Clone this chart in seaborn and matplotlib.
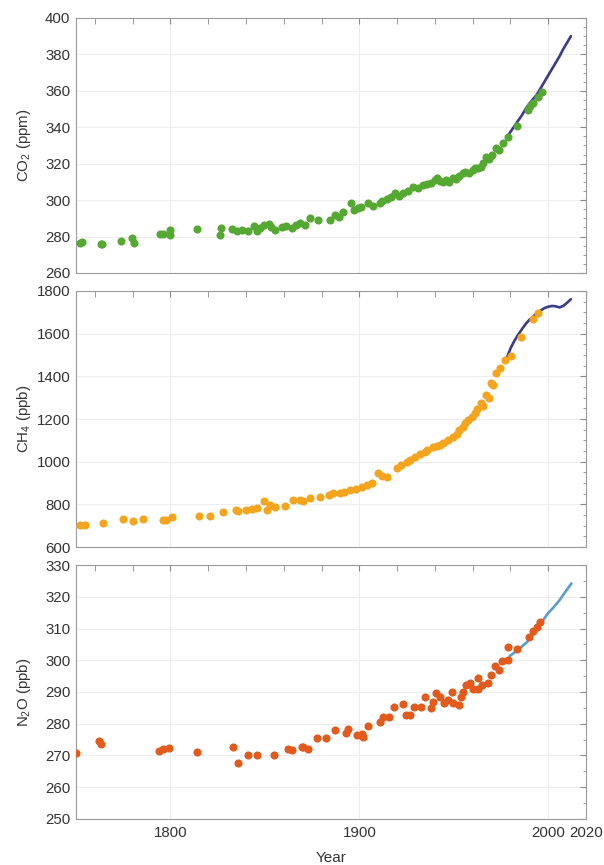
import numpy as np
import pandas as pd
import matplotlib
matplotlib.use("Agg")
import matplotlib.pyplot as plt
import seaborn as sb

# ice core / firn records (points) and direct atmospheric records (lines)
co2_years = [1752, 1753, 1763, 1764, 1774, 1779.6, 1780.7, 1794.4, 1796, 1799.7, 1799.7,
             1814, 1826, 1826.7, 1832.7, 1835, 1838, 1840.8, 1844, 1845.6, 1847.3, 1849.6,
             1852.3, 1853.5, 1855.3, 1858.8, 1861.4, 1864.1, 1866.7, 1868.5, 1871, 1873.8,
             1878, 1884.4, 1887, 1889, 1891.4, 1895.8, 1897, 1899.4, 1901, 1904.7, 1907,
             1910.8, 1912, 1914.4, 1917, 1918.8, 1921, 1923.2, 1926, 1928.5, 1931, 1933.8,
             1936, 1938, 1940, 1941, 1942.5, 1944.4, 1946, 1947.5, 1949.6, 1951, 1953,
             1954.9, 1956, 1958, 1960.2, 1961.5, 1963, 1964.6, 1965.5, 1967.3, 1968.5,
             1970, 1972.5, 1974, 1976, 1978.7, 1983.5, 1989.3, 1990.5, 1992, 1994.6, 1996.9]
co2_values = [276.4, 277.0, 276.0, 275.8, 277.7, 279.4, 276.6, 281.4, 281.4, 283.6, 280.8,
              284.0, 281.0, 284.9, 284.3, 283.3, 283.8, 282.8, 285.6, 283.0, 284.6, 286.1,
              287.0, 285.0, 283.6, 285.0, 285.6, 284.6, 286.2, 287.3, 286.5, 290.0,
              289.0, 289.0, 291.8, 290.5, 293.7, 298.2, 294.5, 295.5, 296.0, 298.2, 297.0,
              298.2, 299.5, 300.4, 301.5, 303.7, 302.5, 303.7, 305.0, 307.4, 306.5, 308.3,
              309.0, 309.5, 311.0, 312.0, 310.5, 310.1, 311.0, 309.8, 312.0, 311.5, 313.0,
              314.7, 315.5, 315.0, 316.5, 317.8, 317.5, 318.4, 320.5, 323.8, 322.5,
              325.0, 328.4, 327.5, 331.2, 334.8, 340.7, 349.5, 351.5, 353.1, 356.8, 359.5]
co2_inst_years = [1978, 1980, 1982, 1984, 1986, 1988, 1990, 1992, 1994, 1996, 1998, 2000,
                  2002, 2004, 2006, 2008, 2010, 2012]
co2_inst_values = [334.0, 337.5, 340.5, 343.5, 346.5, 350.0, 353.0, 355.5, 358.0, 361.5,
                   365.0, 368.5, 372.0, 375.5, 379.0, 383.0, 386.5, 390.0]

ch4_years = [1752, 1755, 1764.5, 1774.7, 1780.4, 1785.3, 1795.9, 1797.5, 1800.6, 1815.3,
             1820.9, 1827.6, 1834.7, 1836, 1840, 1843, 1845.6, 1849.6, 1850.9, 1852.5,
             1855.3, 1860.6, 1865, 1868.5, 1870, 1873.8, 1879, 1884, 1886, 1889.7, 1892,
             1895, 1898, 1901.2, 1904, 1906.5, 1910, 1912, 1914.4, 1919.7, 1922, 1925,
             1927, 1929.4, 1932, 1934.7, 1936, 1939, 1941, 1942.5, 1944.4, 1947, 1949.6,
             1951.5, 1953, 1954.9, 1956, 1957.6, 1959.5, 1961.1, 1962.5, 1964.6, 1965.5,
             1967.3, 1968.5, 1969.9, 1971, 1972.5, 1974.3, 1976.9, 1980.5, 1985.7, 1991.9,
             1994.6]
ch4_values = [703, 705, 714, 730, 723, 733, 727, 725, 739, 745,
              747, 765, 773, 768, 773, 778, 781, 817, 773, 795,
              789, 792, 820, 820, 815, 828, 833, 845, 855, 852, 860,
              867, 872, 883, 890, 902, 945, 935, 930, 969, 985, 1000,
              1010, 1023, 1035, 1047, 1055, 1070, 1075, 1080, 1086, 1100, 1117,
              1130, 1150, 1164, 1180, 1195, 1210, 1227, 1245, 1273, 1260,
              1313, 1300, 1367, 1360, 1414, 1437, 1477, 1495, 1583, 1667,
              1695]
ch4_inst_years = [1978, 1980, 1982, 1984, 1986, 1988, 1990, 1992, 1994, 1996, 1998, 2000,
                  2002, 2004, 2006, 2008, 2010, 2012]
ch4_inst_values = [1484, 1530, 1565, 1594, 1620, 1645, 1665, 1680, 1695, 1708, 1720, 1726,
                   1730, 1728, 1723, 1730, 1745, 1761]

n2o_years = [1750, 1762.3, 1763.2, 1794, 1796.2, 1799.4, 1814.2, 1832.9, 1836, 1840.8,
             1845.8, 1855, 1862, 1864.5, 1869.4, 1870.3, 1873, 1877.7, 1882.6, 1887,
             1893.2, 1894, 1898.8, 1901.2, 1902, 1904.7, 1910.8, 1912.6, 1915.8, 1918.4,
             1923.2, 1924.6, 1926.7, 1928.8, 1932.9, 1934.8, 1937.8, 1939, 1940.8, 1942.6,
             1944.9, 1947, 1948.8, 1949.6, 1952.8, 1954, 1954.9, 1956.6, 1958.8, 1960.2,
             1962.8, 1962.8, 1965.1, 1968.1, 1969.9, 1971.7, 1974, 1975.6, 1978.7, 1978.7,
             1983.5, 1989.7, 1992, 1994.1, 1995.9]
n2o_values = [270.7, 274.6, 273.5, 271.5, 272.0, 272.4, 271.1, 272.8, 267.7, 270.0,
              270.2, 270.2, 272.0, 271.7, 272.6, 272.8, 272.0, 275.4, 275.4, 278.0,
              277.2, 278.5, 276.5, 276.8, 275.9, 279.4, 280.6, 282.2, 282.0, 285.4,
              286.2, 282.8, 282.8, 285.4, 285.2, 288.5, 284.9, 286.9, 289.6, 288.5,
              286.4, 287.5, 290.1, 286.4, 285.9, 288.5, 290.1, 292.2, 292.7, 290.8,
              290.8, 294.3, 292.2, 292.7, 295.4, 298.2, 297.0, 299.8, 300.1, 304.3,
              303.4, 307.2, 309.3, 310.4, 312.1]
n2o_inst_years = [1979.6, 1984, 1988.4, 1992, 1996, 1999.9, 2003, 2006.1, 2009, 2012.3]
n2o_inst_values = [301.3, 303.3, 305.5, 308.0, 311.5, 314.8, 316.8, 319.0, 321.5, 324.2]

panels = [
    dict(name=r"CO$_2$ (ppm)", years=co2_years, vals=co2_values,
         iyears=co2_inst_years, ivals=co2_inst_values,
         dot="#55a832", line="#3b3b8c", ylim=(260, 400), step=20, minor=5),
    dict(name=r"CH$_4$ (ppb)", years=ch4_years, vals=ch4_values,
         iyears=ch4_inst_years, ivals=ch4_inst_values,
         dot="#f5a41e", line="#3b3b8c", ylim=(600, 1800), step=200, minor=50),
    dict(name=r"N$_2$O (ppb)", years=n2o_years, vals=n2o_values,
         iyears=n2o_inst_years, ivals=n2o_inst_values,
         dot="#e25a1c", line="#5b9bd0", ylim=(250, 330), step=10, minor=5),
]

sb.set_style("white")
plt.rcParams["font.family"] = ["Liberation Sans", "DejaVu Sans"]
plt.rcParams["mathtext.default"] = "regular"

fig = plt.figure(figsize=(6.04, 8.65), dpi=100)
boxes = [(0.1258, 0.6844, 0.8444, 0.2948),
         (0.1258, 0.3676, 0.8444, 0.2960),
         (0.1258, 0.0532, 0.8444, 0.2936)]

for i, (p, box) in enumerate(zip(panels, boxes)):
    ax = fig.add_axes(box)
    pts = pd.DataFrame({"year": p["years"], "value": p["vals"]})
    inst = pd.DataFrame({"year": p["iyears"], "value": p["ivals"]})
    sb.lineplot(data=inst, x="year", y="value", color=p["line"], lw=1.9, ax=ax, zorder=2)
    sb.scatterplot(data=pts, x="year", y="value", color=p["dot"], s=34, linewidth=0,
                   ax=ax, zorder=3)

    ax.set_xlim(1750, 2020)
    ax.set_ylim(*p["ylim"])
    ax.set_xticks([1800, 1900, 2000, 2020])
    ax.set_xticks(np.arange(1760, 2020, 20), minor=True)
    ax.set_yticks(np.arange(p["ylim"][0], p["ylim"][1] + 1, p["step"]))
    ax.set_yticks(np.arange(p["ylim"][0], p["ylim"][1] + 1, p["minor"]), minor=True)
    ax.grid(True, which="major", color="#ededed", lw=0.8)
    ax.tick_params(which="both", direction="in", top=True, right=True, colors="#8a8a8a",
                   labelcolor="#333333", labelsize=10.8)
    ax.tick_params(which="major", length=4)
    ax.tick_params(which="minor", length=4)
    ax.tick_params(axis="y", which="minor", length=2.5)
    ax.tick_params(axis="y", pad=4)
    ax.tick_params(axis="x", pad=5)
    for s in ax.spines.values():
        s.set_color("#9a9a9a")
        s.set_linewidth(0.8)

    ax.set_ylabel(p["name"], fontsize=10.8, color="#333333")
    ax.yaxis.set_label_coords(-0.085, 0.5)
    if i < 2:
        ax.set_xticklabels([])
        ax.set_xlabel("")
    else:
        ax.set_xlabel("Year", fontsize=11, color="#333333")
        ax.xaxis.set_label_coords(0.5, -0.125)

fig.savefig("out.png", dpi=100)
